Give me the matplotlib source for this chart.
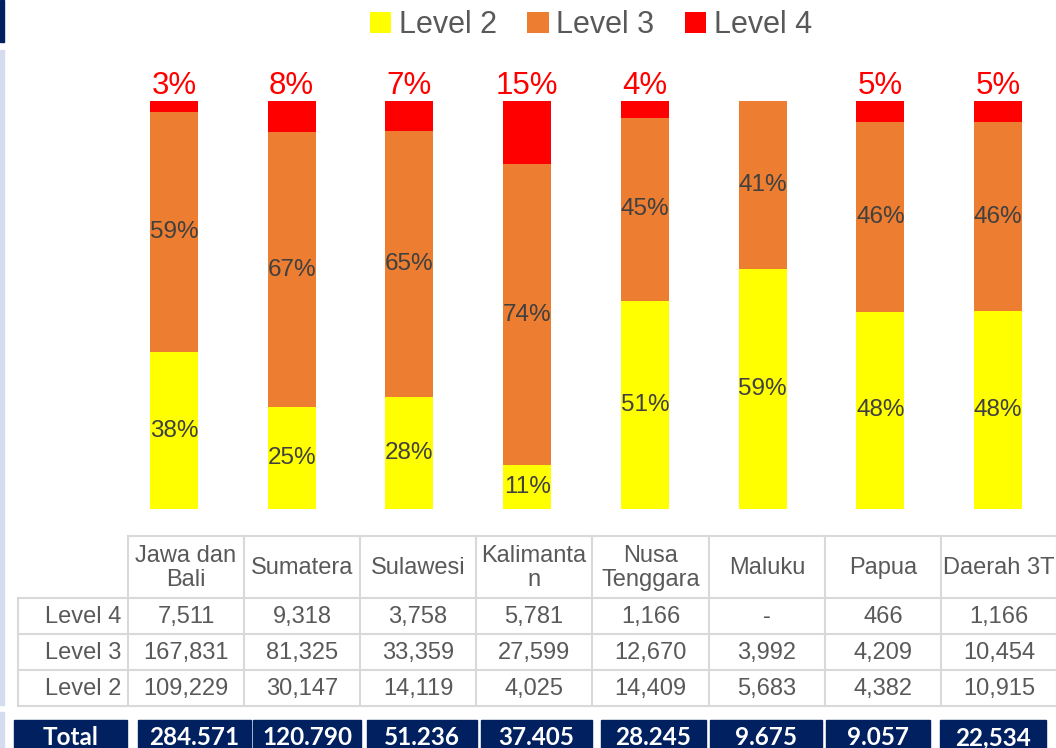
import numpy as np
import matplotlib
matplotlib.use("Agg")
import matplotlib.pyplot as plt
from matplotlib.patches import Rectangle

plt.rcParams['font.family'] = ['Liberation Sans', 'DejaVu Sans']

regions = ['Jawa dan\nBali', 'Sumatera', 'Sulawesi', 'Kalimanta\nn', 'Nusa\nTenggara',
           'Maluku', 'Papua', 'Daerah 3T']
level4 = np.array([7511, 9318, 3758, 5781, 1166, 0, 466, 1166])
level3 = np.array([167831, 81325, 33359, 27599, 12670, 3992, 4209, 10454])
level2 = np.array([109229, 30147, 14119, 4025, 14409, 5683, 4382, 10915])
totals = ['284.571', '120.790', '51.236', '37.405', '28.245', '9.675', '9.057', '22,534']

C2, C3, C4 = '#FFFF00', '#ED7D31', '#FF0000'
GRAY = '#595959'

total = level2 + level3 + level4
p2 = level2 / total
p3 = level3 / total
p4 = level4 / total

fig = plt.figure(figsize=(10.56, 7.48), dpi=100)
W, H = 1056, 748

# --- stacked bars ---
ax = fig.add_axes([115 / W, (H - 509) / H, 942 / W, 408 / H])
x = np.arange(len(regions))
bw = 0.408
b2 = ax.bar(x, p2, bw, color=C2, label='Level 2', zorder=2)
b3 = ax.bar(x, p3, bw, bottom=p2, color=C3, label='Level 3', zorder=2)
b4 = ax.bar(x, p4, bw, bottom=p2 + p3, color=C4, label='Level 4', zorder=2)
ax.set_xlim(-0.5, 7.5)
ax.set_ylim(0, 1)
ax.axis('off')

for i in range(len(x)):
    ax.text(x[i], p2[i] / 2, '%d%%' % round(p2[i] * 100), ha='center', va='center',
            fontsize=17.5, color='#404040', zorder=3)
    ax.text(x[i], p2[i] + p3[i] / 2, '%d%%' % round(p3[i] * 100), ha='center', va='center',
            fontsize=17.5, color='#404040', zorder=3)
    if level4[i] > 0:
        ax.text(x[i], 1.037, '%d%%' % round(p4[i] * 100), ha='center', va='center',
                fontsize=22.5, color=C4, zorder=1, clip_on=False)

fig.legend(handles=[b2, b3, b4], loc='center', bbox_to_anchor=(591 / W, 1 - 25 / H),
           ncol=3, frameon=False, fontsize=22, labelcolor=GRAY,
           handlelength=0.7, handleheight=0.7, handletextpad=0.25, columnspacing=1.0)

# --- table and totals in pixel coordinates ---
axp = fig.add_axes([0, 0, 1, 1], zorder=-1)
axp.set_xlim(0, W)
axp.set_ylim(H, 0)
axp.axis('off')

# side strips
axp.add_patch(Rectangle((0, 0), 4, 42, color='#002060'))
axp.add_patch(Rectangle((0, 50), 4, 655, color='#D6DCF0'))
axp.add_patch(Rectangle((0, 712), 4, 40, color='#D6DCF0'))

col_x = [128, 244, 360, 476, 592, 709, 825, 941, 1057]
row_y = [536, 598, 634, 670, 706]
lc, lw = '#D9D9D9', 1.5

axp.plot([128, W], [536, 536], color=lc, lw=lw)
for yy in row_y[1:]:
    axp.plot([18, W], [yy, yy], color=lc, lw=lw)
axp.plot([18, 18], [598, 706], color=lc, lw=lw)
for xx in col_x:
    axp.plot([xx, xx], [536, 706], color=lc, lw=lw)

for j, name in enumerate(regions):
    cx = (col_x[j] + col_x[j + 1]) / 2
    axp.text(cx, 568, name, ha='center', va='center', fontsize=17, color=GRAY,
             linespacing=1.15)

rows = [('Level 4', level4), ('Level 3', level3), ('Level 2', level2)]
for r, (lab, vals) in enumerate(rows):
    cy = (row_y[r + 1] + row_y[r + 2]) / 2 + 1
    axp.text(121, cy, lab, ha='right', va='center', fontsize=17, color=GRAY)
    for j, v in enumerate(vals):
        cx = (col_x[j] + col_x[j + 1]) / 2
        s = '-' if v == 0 else '{:,}'.format(v)
        axp.text(cx, cy, s, ha='center', va='center', fontsize=17, color=GRAY)

boxes = [(14, 127), (138, 251), (253, 361), (367, 477), (481, 592),
         (601, 706), (710, 822), (826, 930), (940, 1046)]
for k, (x0, x1) in enumerate(boxes):
    axp.add_patch(Rectangle((x0, 720), x1 - x0, 40, color='#002060'))
    s = 'Total' if k == 0 else totals[k - 1]
    axp.text((x0 + x1) / 2, 726, s, ha='center', va='top', fontsize=17.5,
             color='white', fontweight='bold', family=['Lato', 'DejaVu Sans'])

fig.savefig('out.png', dpi=100)
